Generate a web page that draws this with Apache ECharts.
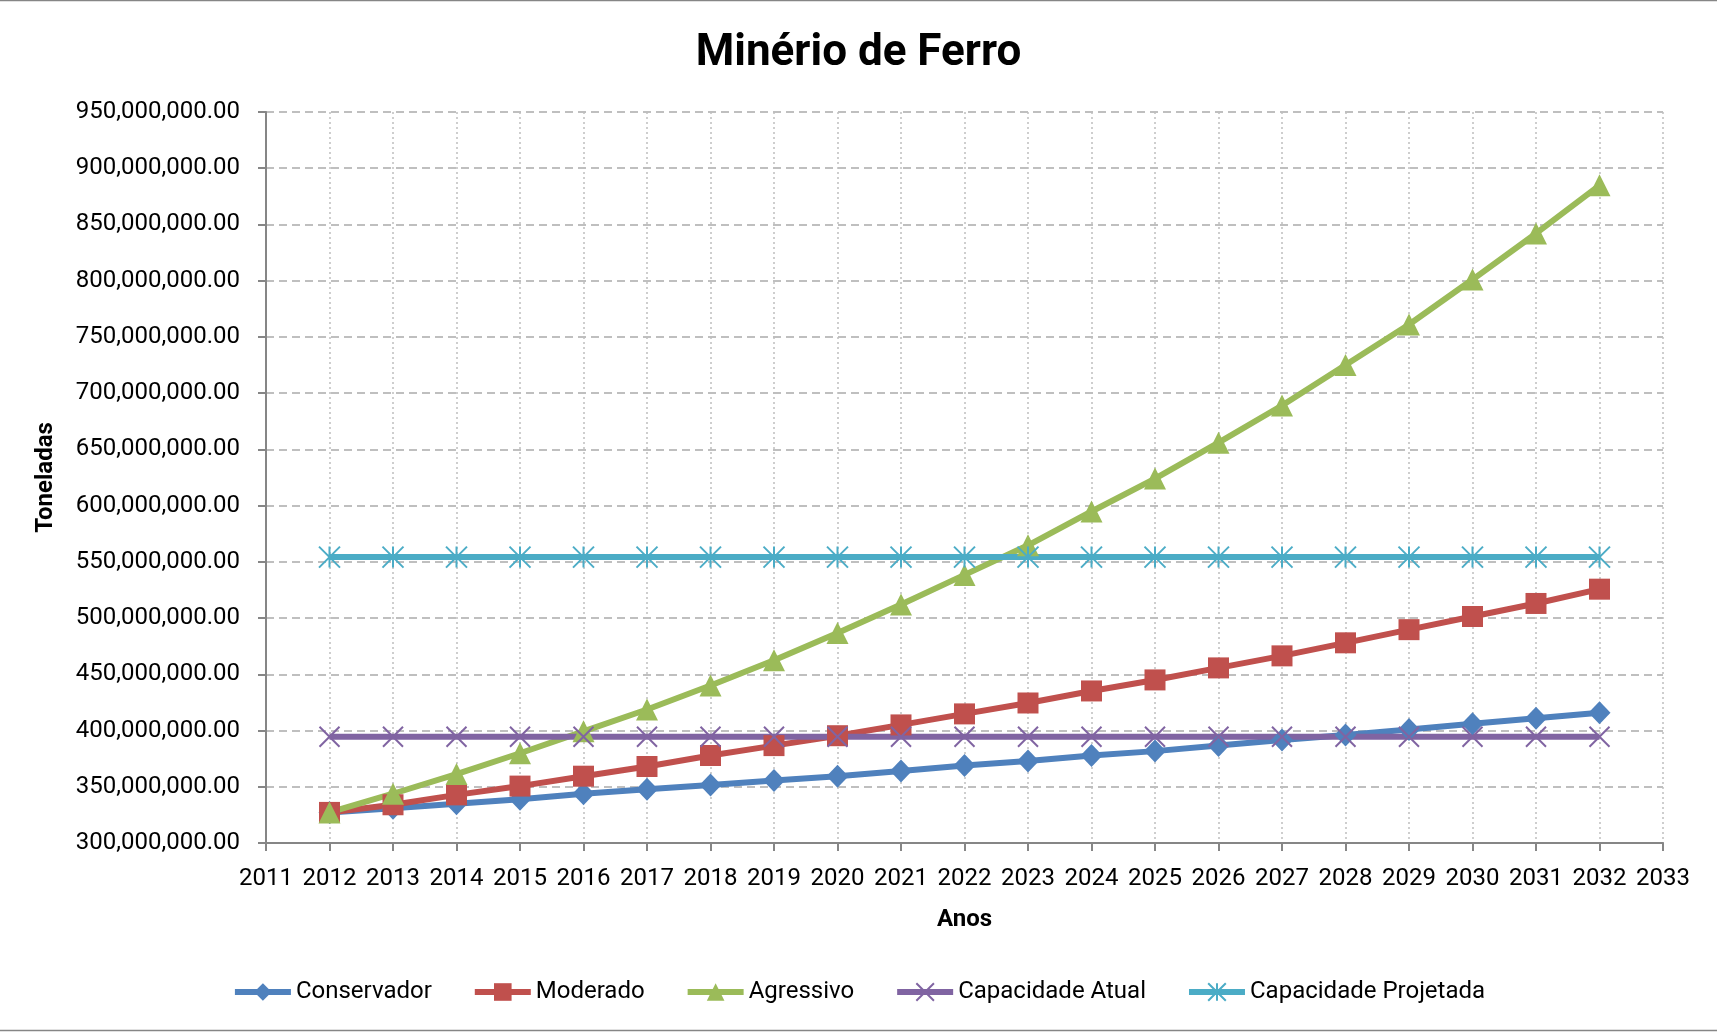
<!DOCTYPE html>
<html>
<head>
<meta charset="utf-8">
<script src="https://cdn.jsdelivr.net/npm/echarts@6/dist/echarts.min.js"></script>
<style>
html,body{margin:0;padding:0;background:#fff;}
#c{width:1717px;height:1032px;}
</style>
</head>
<body>
<div id="c"></div>
<script>
const years = [2012,2013,2014,2015,2016,2017,2018,2019,2020,2021,2022,2023,2024,2025,2026,2027,2028,2029,2030,2031,2032];
const conservador = [327200000,331000000,335000000,339000000,343800000,347700000,351600000,355500000,359400000,364000000,369000000,373000000,377800000,381700000,386600000,391500000,396000000,401000000,406000000,411000000,415800000];
const moderado = [327200000,334000000,342800000,350600000,359400000,368000000,377800000,386600000,395400000,405000000,414800000,424500000,435200000,445000000,455700000,466400000,478000000,489700000,501400000,513000000,525700000];
const agressivo = [327200000,343800000,361300000,379800000,399300000,418700000,440000000,462500000,486800000,512000000,538400000,564700000,594800000,624000000,656000000,689000000,725000000,761000000,801000000,842000000,884800000];
const capacidadeAtual = [394500000,394500000,394500000,394500000,394500000,394500000,394500000,394500000,394500000,394500000,394500000,394500000,394500000,394500000,394500000,394500000,394500000,394500000,394500000,394500000,394500000];
const capacidadeProjetada = [554200000,554200000,554200000,554200000,554200000,554200000,554200000,554200000,554200000,554200000,554200000,554200000,554200000,554200000,554200000,554200000,554200000,554200000,554200000,554200000,554200000];
const seriesNames = ['Conservador','Moderado','Agressivo','Capacidade Atual','Capacidade Projetada'];

const FONT = 'Roboto';
const pairs = arr => years.map((y, i) => [y, arr[i]]);
const xPath = 'path://M0,0L20,20M20,0L0,20';
const starPath = 'path://M10,0L10,20M0,0L20,20M20,0L0,20';

function lineSeries(name, data, color, symbol, size, stroked) {
  return {
    name: name,
    type: 'line',
    data: pairs(data),
    symbol: symbol,
    symbolSize: size,
    showAllSymbol: true,
    lineStyle: { color: color, width: 6 },
    itemStyle: stroked
      ? { color: color, borderColor: color, borderWidth: 2 }
      : { color: color, borderWidth: 0 },
    emphasis: { disabled: true },
    animation: false
  };
}

const chart = echarts.init(document.getElementById('c'), null, { renderer: 'canvas' });
chart.setOption({
  backgroundColor: '#ffffff',
  animation: false,
  title: {
    text: 'Minério de Ferro',
    left: 'center',
    top: 27,
    textStyle: { fontFamily: FONT, fontWeight: 'bold', fontSize: 44, color: '#000' }
  },
  grid: { left: 266, right: 54, top: 112, bottom: 189 },
  legend: {
    data: seriesNames,
    left: 'center',
    top: 975,
    itemWidth: 56,
    itemHeight: 22,
    itemGap: 40,
    lineStyle: { width: 6 },
    textStyle: { fontFamily: FONT, fontSize: 24, color: '#000' }
  },
  xAxis: {
    type: 'value',
    min: 2011,
    max: 2033,
    interval: 1,
    name: 'Anos',
    nameLocation: 'middle',
    nameGap: 65,
    nameTextStyle: { fontFamily: FONT, fontWeight: 'bold', fontSize: 24, color: '#000' },
    axisLine: { show: true, lineStyle: { color: '#868686', width: 2 } },
    axisTick: { show: true, length: 8, lineStyle: { color: '#868686', width: 2 } },
    axisLabel: { margin: 24, fontFamily: FONT, fontSize: 24, color: '#000', formatter: v => String(v) },
    splitLine: { show: true, lineStyle: { color: '#BFBFBF', width: 1.5, type: [2, 3] } }
  },
  yAxis: {
    type: 'value',
    min: 300000000,
    max: 950000000,
    interval: 50000000,
    name: 'Toneladas',
    nameLocation: 'middle',
    nameGap: 208,
    nameTextStyle: { fontFamily: FONT, fontWeight: 'bold', fontSize: 24, color: '#000' },
    axisLine: { show: true, lineStyle: { color: '#868686', width: 2 } },
    axisTick: { show: true, length: 8, lineStyle: { color: '#868686', width: 2 } },
    axisLabel: {
      margin: 26, fontFamily: FONT, fontSize: 24, color: '#000',
      formatter: v => v.toLocaleString('en-US', { minimumFractionDigits: 2, maximumFractionDigits: 2 })
    },
    splitLine: { show: true, lineStyle: { color: '#BFBFBF', width: 2, type: [8, 5] } }
  },
  series: [
    lineSeries(seriesNames[0], conservador, '#4F81BD', 'diamond', [22, 23], false),
    lineSeries(seriesNames[1], moderado, '#C0504D', 'rect', 21, false),
    lineSeries(seriesNames[2], agressivo, '#9BBB59', 'triangle', 22, false),
    lineSeries(seriesNames[3], capacidadeAtual, '#8064A2', xPath, 20, true),
    lineSeries(seriesNames[4], capacidadeProjetada, '#4BACC6', starPath, 21, true)
  ],
  graphic: [{
    type: 'rect',
    silent: true,
    shape: { x: -2, y: 0.5, width: 1721, height: 1030 },
    style: { fill: 'none', stroke: '#868686', lineWidth: 1.5 }
  }]
});
</script>
</body>
</html>
